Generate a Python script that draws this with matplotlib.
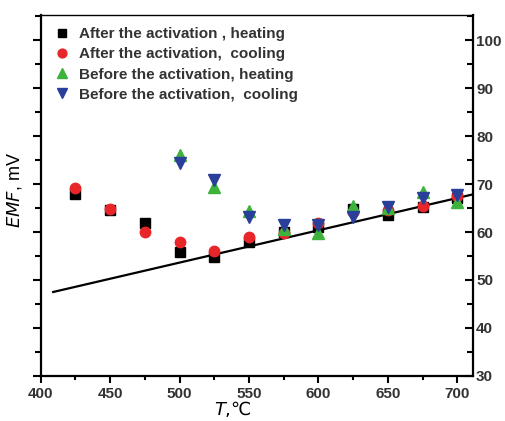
import matplotlib
matplotlib.use('Agg')
import matplotlib.pyplot as plt
from matplotlib.ticker import MultipleLocator

# temperatures, degC
T_after = [425, 450, 475, 500, 525, 550, 575, 600, 625, 650, 675, 700]
T_before = [500, 525, 550, 575, 600, 625, 650, 675, 700]

# EMF, mV
after_heat = [67.9, 64.6, 61.9, 55.8, 54.8, 57.9, 59.9, 61.0, 64.9, 63.5, 65.2, 67.0]
after_cool = [69.2, 64.8, 60.0, 57.9, 56.0, 59.0, 59.8, 61.9, 64.2, 64.5, 65.4, 67.6]
before_heat = [76.0, 69.4, 64.4, 60.6, 59.8, 65.4, 65.0, 68.3, 66.2]
before_cool = [74.4, 70.8, 63.1, 61.5, 61.5, 63.1, 65.2, 67.1, 67.7]

# fitted line ends
line_T = [409, 712]
line_emf = [47.5, 67.9]

labels = ['After the activation , heating',
          'After the activation,  cooling',
          'Before the activation, heating',
          'Before the activation,  cooling']

plt.rcParams['font.family'] = ['Liberation Sans', 'DejaVu Sans']

fig = plt.figure(figsize=(5.06, 4.21), dpi=100)
ax = fig.add_axes([0.0804, 0.107, 0.855, 0.857])

ax.plot(line_T, line_emf, color='black', lw=1.6, zorder=1)
ax.plot(T_after, after_heat, 's', color='black', ms=6.5, label=labels[0], zorder=2)
ax.plot(T_after, after_cool, 'o', color='#e8262a', ms=7.5, label=labels[1], zorder=3)
ax.plot(T_before, before_heat, '^', color='#3db33c', ms=8, label=labels[2], zorder=4)
ax.plot(T_before, before_cool, 'v', color='#2a3f9a', ms=8, label=labels[3], zorder=5)

ax.set_xlim(400, 711.5)
ax.set_ylim(30, 105.2)
ax.xaxis.set_major_locator(MultipleLocator(50))
ax.xaxis.set_minor_locator(MultipleLocator(25))
ax.yaxis.set_major_locator(MultipleLocator(10))
ax.yaxis.set_minor_locator(MultipleLocator(5))

for s in ax.spines.values():
    s.set_linewidth(1.6)
ax.spines['top'].set_linewidth(1.0)

ax.tick_params(axis='x', which='major', direction='out', length=5, width=1.5,
               labelsize=11, labelcolor='#333333', pad=3)
ax.tick_params(axis='x', which='minor', direction='out', length=3, width=1.5)
ax.tick_params(axis='y', which='major', direction='out', length=6, width=1.5,
               left=True, right=False, labelleft=False)
ax.tick_params(axis='y', which='minor', direction='out', length=4, width=1.5)
for lab in ax.get_xticklabels():
    lab.set_fontweight('bold')

ax2 = ax.twinx()
ax2.set_ylim(ax.get_ylim())
ax2.yaxis.set_major_locator(MultipleLocator(10))
ax2.yaxis.set_minor_locator(MultipleLocator(5))
ax2.set_yticks([30, 40, 50, 60, 70, 80, 90, 100])
ax2.tick_params(axis='y', which='major', direction='in', length=6, width=1.5,
                labelsize=11, labelcolor='#333333', pad=2)
ax2.tick_params(axis='y', which='minor', direction='in', length=4, width=1.5)
for lab in ax2.get_yticklabels():
    lab.set_fontweight('bold')
for s in ax2.spines.values():
    s.set_visible(False)

ax.set_xlabel(r'$\it{T}$,℃', fontsize=13, family='DejaVu Sans')
ax.xaxis.set_label_coords(0.444, -0.064)
ax.set_ylabel(r'$\it{EMF}$, mV', fontsize=13)
ax.yaxis.set_label_coords(-0.038, 0.515)

leg = ax.legend(loc='upper left', frameon=False, fontsize=11, handletextpad=0.5,
                labelspacing=0.4, borderaxespad=0.4, handlelength=1.2,
                markerscale=0.85)
for t in leg.get_texts():
    t.set_fontweight('bold')
    t.set_color('#333333')

fig.savefig('out.png', dpi=100)
